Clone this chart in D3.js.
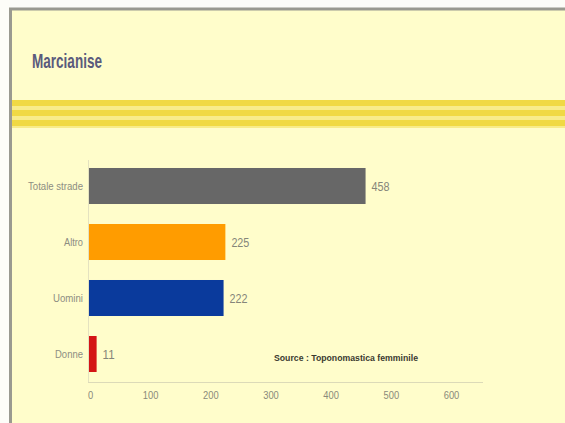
<!DOCTYPE html>
<html><head><meta charset="utf-8">
<script src="https://cdn.jsdelivr.net/npm/d3@7"></script>
<style>
html,body{margin:0;padding:0;background:#fdfdf8;}
svg{display:block;}
text{font-family:"Liberation Sans Narrow","Arial Narrow","Liberation Sans",sans-serif;}
</style></head><body>
<svg id="c" width="565" height="423"></svg>
<script>
const categories = ["Totale strade", "Altro", "Uomini", "Donne"];
const values = [458, 225, 222, 11];
const colors = ["#676767", "#FF9C00", "#0A3A9C", "#D41515"];
const xTicks = [0, 100, 200, 300, 400, 500, 600];
const title = "Marcianise";
const source = "Source : Toponomastica femminile";

const svg = d3.select("#c");
// frame
svg.append("rect").attr("x", 10.5).attr("y", 9).attr("width", 560).attr("height", 420)
  .attr("fill", "#FFFDCB").attr("stroke", "#9a9a90").attr("stroke-width", 3);
// stripes
svg.append("rect").attr("x", 12).attr("y", 100).attr("width", 553).attr("height", 28).attr("fill", "#F8EC8A");
[100, 110, 120].forEach(y => {
  svg.append("rect").attr("x", 12).attr("y", y).attr("width", 553).attr("height", 6).attr("fill", "#F0D944");
});
// title
svg.append("text").attr("x", 32).attr("y", 68).text(title)
  .attr("font-size", 21).attr("font-weight", "bold").attr("fill", "#5a5a7c")
  .attr("textLength", 70).attr("lengthAdjust", "spacingAndGlyphs");

const x = d3.scaleLinear().domain([0, 600]).range([90, 451]);
const y = d3.scaleBand().domain(categories).range([158, 382]).paddingInner(0.357).paddingOuter(0.1785);

// y axis line
svg.append("line").attr("x1", 88.5).attr("x2", 88.5).attr("y1", 160).attr("y2", 382).attr("stroke", "#e4e2c0");
// x axis
const xa = svg.append("g").attr("transform", "translate(0,382)")
  .call(d3.axisBottom(x).tickValues(xTicks).tickSize(0).tickPadding(10));
xa.select(".domain").attr("stroke", "#dcdab8").attr("d", "M88,0.5H483");
xa.selectAll("text").attr("font-size", 10).attr("fill", "#8a8a7a")
  .attr("font-family", "Liberation Sans Narrow, sans-serif")
  .attr("textLength", d => String(d).length * 5.2).attr("lengthAdjust", "spacingAndGlyphs");

// bars
svg.selectAll("rect.bar").data(categories).enter().append("rect").attr("class", "bar")
  .attr("x", x(0) - 1).attr("y", d => y(d))
  .attr("width", (d, i) => x(values[i]) - x(0) + 1).attr("height", y.bandwidth())
  .attr("fill", (d, i) => colors[i]);

// category labels
const catWidths = [55, 19, 30, 28];
svg.selectAll("text.cat").data(categories).enter().append("text").attr("class", "cat")
  .attr("x", 83).attr("y", d => y(d) + y.bandwidth() / 2 + 3.5).attr("text-anchor", "end")
  .attr("font-size", 10).attr("fill", "#8d8d82").text(d => d)
  .attr("textLength", (d, i) => catWidths[i]).attr("lengthAdjust", "spacingAndGlyphs");

// value labels
svg.selectAll("text.val").data(categories).enter().append("text").attr("class", "val")
  .attr("x", (d, i) => x(values[i]) + 6).attr("y", d => y(d) + y.bandwidth() / 2 + 5)
  .attr("font-size", 12).attr("fill", "#85857a").text((d, i) => values[i])
  .attr("textLength", (d, i) => String(values[i]).length * 6).attr("lengthAdjust", "spacingAndGlyphs");

// source
svg.append("text").attr("x", 274).attr("y", 361).attr("font-size", 9).attr("font-weight", "bold")
  .attr("fill", "#3a3a30").text(source)
  .attr("textLength", 144).attr("lengthAdjust", "spacingAndGlyphs");
</script>
</body></html>
